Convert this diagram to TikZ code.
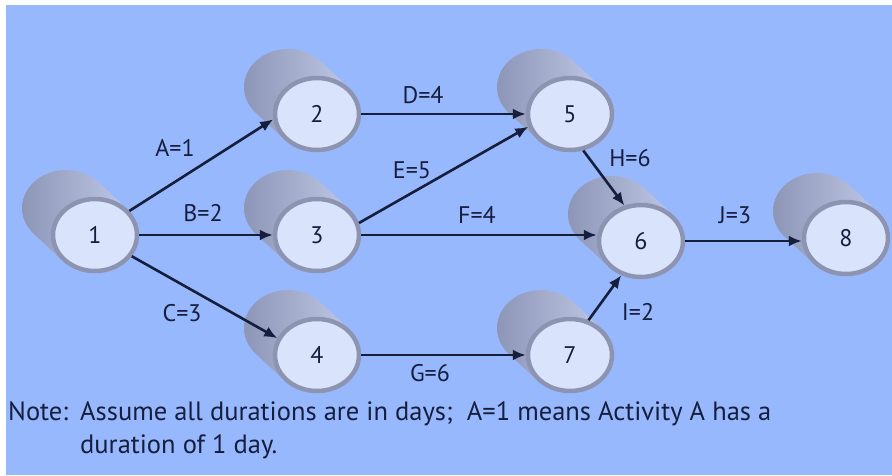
\documentclass[tikz,border=0pt]{standalone}
\usepackage{fontspec}
\setmainfont{PT Sans}
\usetikzlibrary{arrows.meta,shapes.geometric,calc}
\definecolor{bg}{RGB}{152,184,253}
\definecolor{ink}{RGB}{22,30,62}
\definecolor{face}{RGB}{218,227,252}
\definecolor{ring}{RGB}{140,148,178}
\definecolor{cyldark}{RGB}{140,148,182}
\definecolor{cyllight}{RGB}{198,206,236}
\newcommand\cylbody[1]{%
  \shade[left color=cyldark, right color=cyllight]
    (#1) ++(137.2:44 and 38)
    arc[start angle=137.2, end angle=-42.8, x radius=44, y radius=38]
    -- ++(-29,-27)
    arc[start angle=-42.8, end angle=-222.8, x radius=44, y radius=38]
    -- cycle;}
\begin{document}
\begin{tikzpicture}[x=1pt,y=-1pt,
  evnode/.style={ellipse, fill=face, draw=ring, line width=4.5pt,
    minimum width=84pt, minimum height=72pt, inner sep=0pt,
    font=\fontsize{24}{28}\selectfont, text=ink},
  arr/.style={draw=ink, line width=2.6pt, -{Latex[length=13pt,width=11pt]}},
  lbl/.style={font=\fontsize{24}{28}\selectfont, text=ink, inner sep=0pt},
  notetext/.style={font=\fontsize{26.5}{30}\selectfont, text=ink, inner sep=0pt},
]
\fill[white] (0,0) rectangle (892,475);
\fill[bg] (6,5) rectangle (892,475);
\useasboundingbox (0,0) rectangle (892,475);

\coordinate (p1) at (95,235);
\coordinate (p2) at (317,114);
\coordinate (p3) at (317,235);
\coordinate (p4) at (317,355);
\coordinate (p5) at (570,114);
\coordinate (p6) at (641,241);
\coordinate (p7) at (570,355);
\coordinate (p8) at (846,238);

\foreach \p in {p1,p2,p3,p4,p5,p6,p7,p8} {\cylbody{\p}}

\node[evnode] (n1) at (p1) {1};
\node[evnode] (n2) at (p2) {2};
\node[evnode] (n3) at (p3) {3};
\node[evnode] (n4) at (p4) {4};
\node[evnode] (n5) at (p5) {5};
\node[evnode] (n6) at (p6) {6};
\node[evnode] (n7) at (p7) {7};
\node[evnode] (n8) at (p8) {8};

\draw[arr] (n1.35) -- (n2.187);
\draw[arr] (n1.east) -- (n3.west);
\draw[arr] (n1.-30) -- (n4.157);
\draw[arr] (n2.east) -- (n5.west);
\draw[arr] (n3.16) -- (n5.197);
\draw[arr] (n3.east) -- (n3.east -| n6.west);
\draw[arr] (n4.east) -- (n7.west);
\draw[arr] (n5.-70) -- (n6.115);
\draw[arr] (n7.62) -- (n6.240);
\draw[arr] (n6.east) -- (n6.east -| n8.west);

\node[lbl] (la) at (175,148) {A=1};
\node[lbl] (lb) at (203,213) {B=2};
\node[lbl] (lc) at (182,313) {C=3};
\node[lbl] (ld) at (423,95) {D=4};
\node[lbl] (le) at (412,170) {E=5};
\node[lbl] (lf) at (477,215) {F=4};
\node[lbl] (lg) at (430,373) {G=6};
\node[lbl] (lh) at (630,158) {H=6};
\node[lbl] (li) at (638,312) {I=2};
\node[lbl] (lj) at (735,215) {J=3};

\node[notetext, anchor=base west] (note) at (8,420) {Note:};
\node[notetext, anchor=base west] (note1) at (80,420) {Assume all durations are in days;\ \ A=1 means Activity A has a};
\node[notetext, anchor=base west] (note2) at (80,453) {duration of 1 day.};
\end{tikzpicture}
\end{document}
